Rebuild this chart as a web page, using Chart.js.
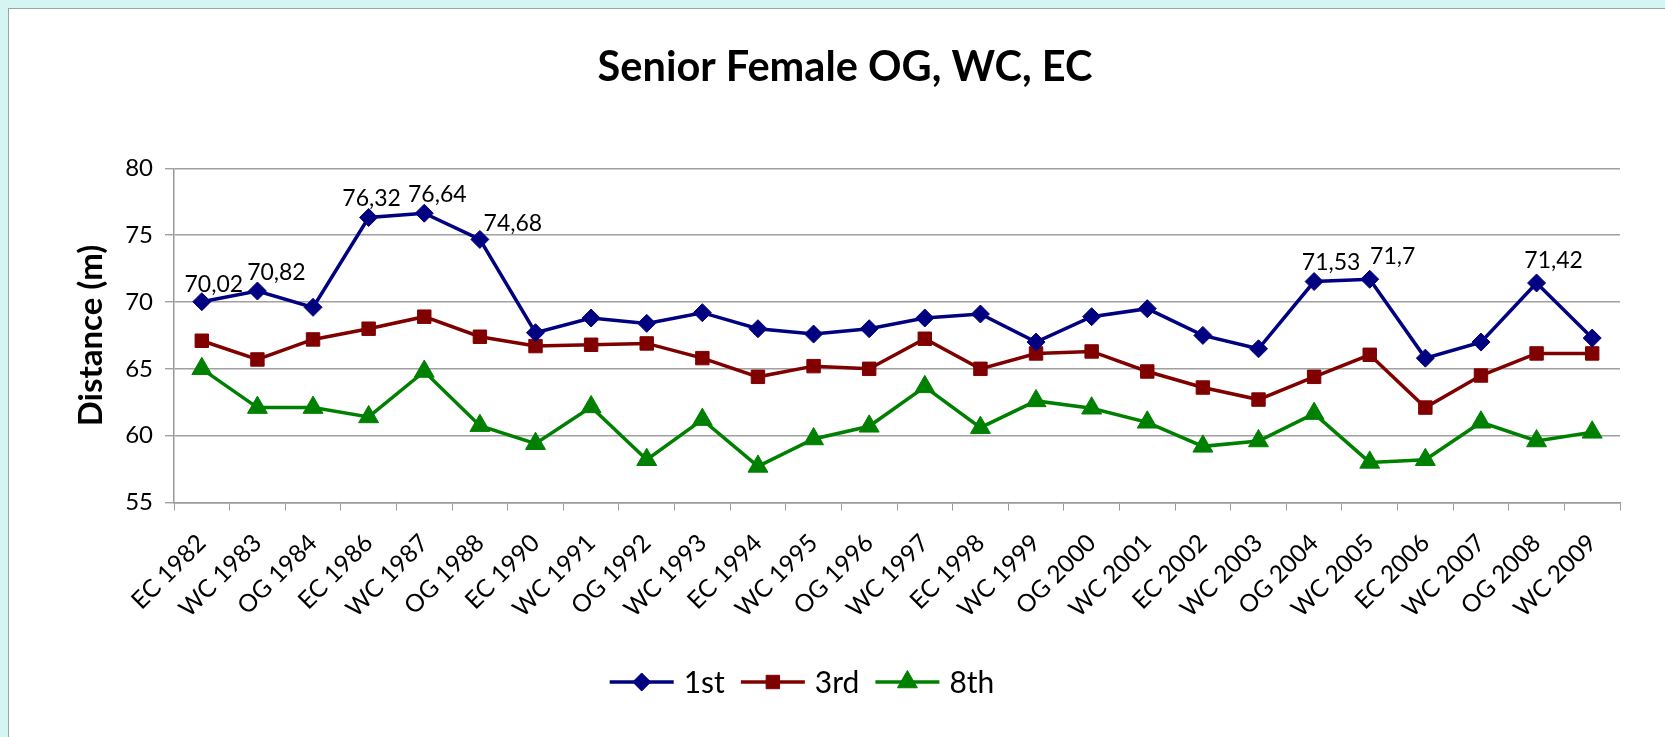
<!DOCTYPE html>
<html>
<head>
<meta charset="utf-8">
<script src="https://cdn.jsdelivr.net/npm/chart.js@4"></script>
<style>
  html, body { margin: 0; padding: 0; overflow: hidden; }
  body { width: 1665px; height: 737px; background: #d5f5f5; position: relative; }
  #frame { position: absolute; left: 8px; top: 8px; width: 1700px; height: 760px;
           background: #fff; border-left: 1.5px solid #9aa6a6; border-top: 1.5px solid #9aa6a6; }
  #chart { position: absolute; left: 0; top: 0; }
</style>
</head>
<body>
<div id="frame"></div>
<canvas id="chart" width="1690" height="737"></canvas>
<script>
const events = ['EC 1982', 'WC 1983', 'OG 1984', 'EC 1986', 'WC 1987', 'OG 1988', 'EC 1990',
  'WC 1991', 'OG 1992', 'WC 1993', 'EC 1994', 'WC 1995', 'OG 1996', 'WC 1997', 'EC 1998',
  'WC 1999', 'OG 2000', 'WC 2001', 'EC 2002', 'WC 2003', 'OG 2004', 'WC 2005', 'EC 2006',
  'WC 2007', 'OG 2008', 'WC 2009'];

const first = [70.02, 70.82, 69.6, 76.32, 76.64, 74.68, 67.7, 68.8, 68.4, 69.2, 68.0, 67.6, 68.0,
  68.8, 69.1, 67.0, 68.9, 69.5, 67.5, 66.5, 71.53, 71.7, 65.8, 67.0, 71.42, 67.3];
const third = [67.1, 65.7, 67.2, 68.0, 68.9, 67.4, 66.7, 66.8, 66.9, 65.8, 64.4, 65.2, 65.0,
  67.25, 65.0, 66.15, 66.3, 64.8, 63.6, 62.7, 64.4, 66.05, 62.1, 64.5, 66.15, 66.15];
const eighth = [65.0, 62.1, 62.1, 61.4, 64.8, 60.75, 59.4, 62.15, 58.2, 61.2, 57.7, 59.75, 60.7,
  63.65, 60.6, 62.6, 62.05, 61.0, 59.2, 59.6, 61.65, 58.0, 58.2, 61.0, 59.6, 60.25];

const yTicks = [55, 60, 65, 70, 75, 80];

// which points of the 1st series carry a value label
const labelledPoints = [0, 1, 3, 4, 5, 20, 21, 24];

const FONT = 'Lato, "Open Sans", sans-serif';

// label nudges (dx, dy from the point)
const labelNudge = { 0: [12, -17], 1: [19, -18], 3: [3, -19], 4: [13, -19], 5: [33, -16],
  20: [17, -19], 21: [23, -23], 24: [17, -22] };

const valueLabels = {
  id: 'valueLabels',
  afterDatasetsDraw(chart) {
    const ctx = chart.ctx;
    const meta = chart.getDatasetMeta(0);
    ctx.save();
    ctx.font = '23px ' + FONT;
    ctx.fillStyle = '#000';
    ctx.textAlign = 'center';
    ctx.textBaseline = 'middle';
    labelledPoints.forEach(i => {
      const pt = meta.data[i];
      const n = labelNudge[i] || [12, -18];
      ctx.fillText(String(first[i]).replace('.', ','), pt.x + n[0], pt.y + n[1]);
    });
    ctx.restore();
  }
};

// legend drawn as line + marker, like the spreadsheet one
const lineLegend = {
  id: 'lineLegend',
  afterDraw(chart) {
    const ctx = chart.ctx;
    const cy = 682, centerX = 802, lineLen = 64, textGap = 10, itemGap = 16;
    ctx.save();
    ctx.font = '30px ' + FONT;
    const items = chart.data.datasets.map(ds => ({ ds, w: ctx.measureText(ds.label).width }));
    const total = items.reduce((s, it) => s + lineLen + textGap + it.w, 0) + itemGap * (items.length - 1);
    let x = centerX - total / 2;
    items.forEach(({ ds, w }) => {
      ctx.strokeStyle = ds.borderColor;
      ctx.lineWidth = 3.5;
      ctx.beginPath();
      ctx.moveTo(x, cy);
      ctx.lineTo(x + lineLen, cy);
      ctx.stroke();
      ctx.fillStyle = ds.pointBackgroundColor;
      ctx.strokeStyle = ds.pointBackgroundColor;
      ctx.lineWidth = 1;
      Chart.helpers.drawPoint(ctx, {
        pointStyle: ds.pointStyle, radius: ds.pointRadius, borderWidth: 1, rotation: 0
      }, x + lineLen / 2, cy);
      ctx.fillStyle = '#000';
      ctx.textAlign = 'left';
      ctx.textBaseline = 'middle';
      ctx.fillText(ds.label, x + lineLen + textGap, cy + 1);
      x += lineLen + textGap + w + itemGap;
    });
    ctx.restore();
  }
};

function series(label, data, color, style, radius) {
  return {
    label: label,
    data: data,
    borderColor: color,
    backgroundColor: color,
    borderWidth: 3.5,
    pointStyle: style,
    pointRadius: radius,
    pointHoverRadius: radius,
    pointBackgroundColor: color,
    pointBorderColor: color,
    pointBorderWidth: 1,
    tension: 0
  };
}

new Chart(document.getElementById('chart'), {
  type: 'line',
  data: {
    labels: events,
    datasets: [
      series('1st', first, '#000080', 'rectRot', 9),
      series('3rd', third, '#800000', 'rect', 9.5),
      series('8th', eighth, '#008000', 'triangle', 11.5)
    ]
  },
  options: {
    responsive: false,
    animation: false,
    devicePixelRatio: 1,
    layout: { padding: { left: 70, right: 70, top: 0, bottom: 0 } },
    plugins: {
      legend: { display: false },
      tooltip: { enabled: false },
      title: {
        display: true,
        text: 'Senior Female OG, WC, EC',
        color: '#000',
        font: { family: FONT, size: 41.5, weight: 'bold' },
        padding: { top: 43, bottom: 75.5 }
      }
    },
    scales: {
      x: {
        type: 'category',
        offset: true,
        afterFit: s => { s.height = 234.5; },
        grid: { drawOnChartArea: false, drawTicks: true, tickLength: 8, color: '#9a9a9a', offset: true },
        border: { color: '#9a9a9a', width: 1.5 },
        ticks: {
          autoSkip: false, minRotation: 45, maxRotation: 45, padding: 18,
          color: '#000', font: { family: FONT, size: 24.5 }
        }
      },
      y: {
        min: 55,
        max: 80,
        afterFit: s => { s.width = 104; },
        afterBuildTicks: s => { s.ticks = yTicks.map(v => ({ value: v })); },
        grid: { color: '#a0a0a0', lineWidth: 1.4, tickLength: 9 },
        border: { color: '#9a9a9a', width: 1.5 },
        ticks: { padding: 12, color: '#000', font: { family: FONT, size: 24 } },
        title: {
          display: true,
          text: 'Distance (m)',
          color: '#000',
          font: { family: FONT, size: 33, weight: 'bold' },
          padding: { top: 2, bottom: 0 }
        }
      }
    }
  },
  plugins: [valueLabels, lineLegend]
});
</script>
</body>
</html>
